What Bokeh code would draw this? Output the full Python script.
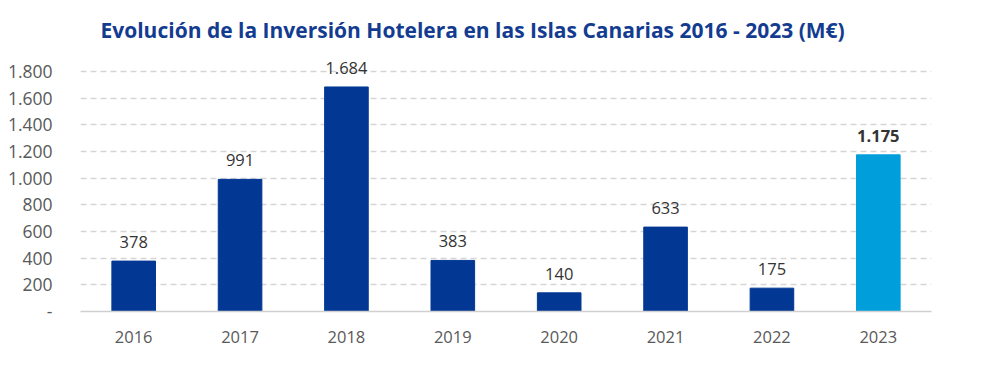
from bokeh.plotting import figure
from bokeh.models import ColumnDataSource, FactorRange, Range1d, FixedTicker, Title
from bokeh.core.properties import value
from bokeh.embed import file_html
from bokeh.resources import INLINE

years = ["2016", "2017", "2018", "2019", "2020", "2021", "2022", "2023"]
investment = [378, 991, 1684, 383, 140, 633, 175, 1175]
labels = ["378", "991", "1.684", "383", "140", "633", "175", "1.175"]
colors = ["#023893"] * 7 + ["#009FDB"]
label_weights = ["normal"] * 7 + ["bold"]
y_ticks = [0, 200, 400, 600, 800, 1000, 1200, 1400, 1600, 1800]
y_tick_labels = ["-", "200", "400", "600", "800", "1.000", "1.200", "1.400", "1.600", "1.800"]

FONT = "Open Sans"

src = ColumnDataSource(dict(x=years, y=investment, lab=labels, c=colors, fw=label_weights))

p = figure(width=984, height=363, x_range=FactorRange(*years, range_padding=0.0),
           y_range=Range1d(0, 1950), output_backend="svg", toolbar_location=None,
           min_border_left=80, min_border_right=53, min_border_bottom=52, min_border_top=51)
p.title = Title(text="Evolución de la Inversión Hotelera en las Islas Canarias 2016 - 2023 (M€)",
                text_font=FONT, text_font_size="21px", text_font_style="bold",
                text_color="#133C91", align="left", offset=20, standoff=15)
p.outline_line_color = None
p.background_fill_color = "white"

p.vbar(x="x", top="y", width=0.41, color="c", source=src)
p.text(x="x", y="y", text="lab", text_font=value(FONT), text_font_size="16.5px",
       text_font_style="fw", text_color="#333333", text_align="center",
       text_baseline="bottom", y_offset=-13, source=src)

p.xgrid.grid_line_color = None
p.ygrid.ticker = FixedTicker(ticks=y_ticks[1:])
p.ygrid.grid_line_color = "#D5D5D5"
p.ygrid.grid_line_dash = "6 4"
p.ygrid.grid_line_width = 1.3

p.yaxis.ticker = FixedTicker(ticks=y_ticks)
p.yaxis.major_label_overrides = {t: l for t, l in zip(y_ticks, y_tick_labels)}
p.yaxis.axis_line_color = None
p.yaxis.major_tick_line_color = None
p.yaxis.minor_tick_line_color = None
p.yaxis.major_label_standoff = 22
p.yaxis.major_label_text_font = FONT
p.yaxis.major_label_text_font_size = "17.5px"
p.yaxis.major_label_text_color = "#595959"

p.xaxis.axis_line_color = "#D0D0D0"
p.xaxis.axis_line_width = 1.5
p.xaxis.major_tick_line_color = None
p.xaxis.minor_tick_line_color = None
p.xaxis.major_label_standoff = 13
p.xaxis.major_label_text_font = FONT
p.xaxis.major_label_text_font_size = "16.5px"
p.xaxis.major_label_text_color = "#595959"

open("out.html", "w").write(file_html(p, INLINE))
